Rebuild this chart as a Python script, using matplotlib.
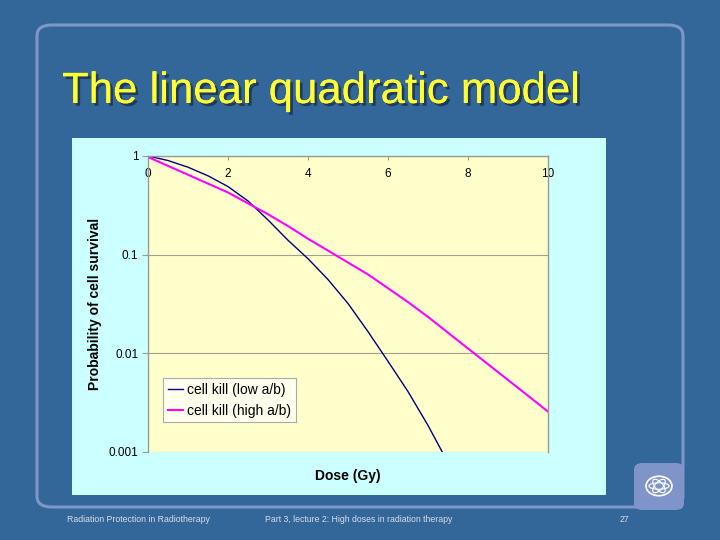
import matplotlib
matplotlib.use("Agg")
import matplotlib.pyplot as plt
import matplotlib.patheffects as pe
from matplotlib.patches import FancyBboxPatch, Rectangle, Ellipse, Circle
import numpy as np

plt.rcParams['font.family'] = ['Liberation Sans', 'DejaVu Sans']

# Data (survival fraction vs dose)
dose = [0, 0.5, 1, 1.5, 2, 2.5, 3, 3.5, 4, 4.5, 5, 5.5, 6, 6.5, 7, 7.5,
        8, 8.5, 9, 9.5, 10]
low_ab = [1.0, 0.90, 0.77, 0.63, 0.49, 0.35, 0.225, 0.14, 0.091, 0.056,
          0.032, 0.0166, 0.0083, 0.0041, 0.00186, 0.00078]
high_ab = [0.977, 0.794, 0.646, 0.525, 0.427, 0.331, 0.257, 0.195, 0.145,
           0.110, 0.0832, 0.0631, 0.0457, 0.0331, 0.0234, 0.0162, 0.0112,
           0.00776, 0.00537, 0.00372, 0.00257]
series_names = ['cell kill (low a/b)', 'cell kill (high a/b)']
x_ticks = [0, 2, 4, 6, 8, 10]
y_ticks = [0.001, 0.01, 0.1, 1]
y_ticklabels = ['0.001', '0.01', '0.1', '1']

W, H = 720, 540
slide_blue = '#336699'

fig = plt.figure(figsize=(7.2, 5.4), dpi=100, facecolor=slide_blue)

def px(x, y):
    # pixel (top-left origin) to figure fraction
    return x / W, 1 - y / H

# slide frame
x0, y0 = px(37, 507)
fig.patches.append(FancyBboxPatch((x0, y0), (683 - 37) / W, (507 - 25) / H,
                                  boxstyle="round,pad=0,rounding_size=0.02",
                                  transform=fig.transFigure, facecolor='none',
                                  edgecolor='#7d97c8', linewidth=2.2))

# title with shadow
fig.text(62 / W, 1 - 103 / H, 'The linear quadratic model', color='#ffff33',
         fontsize=31.5, va='baseline', ha='left',
         path_effects=[pe.withSimplePatchShadow(offset=(2, -2),
                                                shadow_rgbFace='#1c2f4f',
                                                alpha=0.8), pe.Normal()])

# chart area background
cx, cy = px(72, 495)
fig.patches.append(Rectangle((cx, cy), (606 - 72) / W, (495 - 138) / H,
                             transform=fig.transFigure, facecolor='#ccffff',
                             edgecolor='none', zorder=1))

# plot area
l, b = px(148, 452)
ax = fig.add_axes([l, b, (548 - 148) / W, (452 - 156) / H])
ax.set_zorder(3)
ax.set_facecolor('#ffffcc')
ax.set_yscale('log')
ax.set_xlim(0, 10)
ax.set_ylim(0.001, 1)

ax.plot(dose[:len(low_ab)], low_ab, color='#000080', linewidth=1.0,
        label=series_names[0])
ax.plot(dose, high_ab, color='#ff00ff', linewidth=1.5,
        label=series_names[1])

ax.set_yticks(y_ticks)
ax.set_yticklabels(y_ticklabels)
ax.yaxis.set_minor_locator(matplotlib.ticker.NullLocator())
ax.set_xticks(x_ticks)
ax.xaxis.tick_top()
ax.tick_params(axis='x', top=True, labeltop=True, bottom=False,
               labelbottom=False, pad=-17, length=3, direction='in',
               color='#999999', labelsize=8.5)
ax.tick_params(axis='y', length=4, color='#999999', labelsize=8.5, pad=3)
ax.grid(axis='y', which='major', color='#a0a090', linewidth=0.8)

for side in ['left', 'right', 'top']:
    ax.spines[side].set_color('#999999')
    ax.spines[side].set_linewidth(1.0)
ax.spines['bottom'].set_visible(False)

ax.set_xlabel('Dose (Gy)', fontsize=10, fontweight='bold', labelpad=12)
ax.set_ylabel('Probability of cell survival', fontsize=10, fontweight='bold',
              labelpad=5)

leg = ax.legend(loc='lower left', bbox_to_anchor=(0.037, 0.1),
                fontsize=10, handlelength=1.1, handletextpad=0.3,
                borderpad=0.35, labelspacing=0.5, fancybox=False,
                framealpha=1, facecolor='#ffffee', edgecolor='#aaaaaa',
                borderaxespad=0)
leg.get_frame().set_linewidth(0.8)

# logo box
lx, ly = px(634, 510)
fig.patches.append(FancyBboxPatch((lx, ly), 50 / W, 47 / H,
                                  boxstyle="round,pad=0,rounding_size=0.012",
                                  transform=fig.transFigure,
                                  facecolor='#7f95c9', edgecolor='none'))
gx, gy = px(659, 486)
fig.patches.append(Circle((gx, gy), 0.018, transform=fig.transFigure,
                          facecolor='none', edgecolor='white', linewidth=1.2))
for ang in (0, 60, 120):
    fig.patches.append(Ellipse((gx, gy), 0.028, 0.012, angle=ang,
                               transform=fig.transFigure, facecolor='none',
                               edgecolor='white', linewidth=0.8))

# footer
foot_col = '#d8dde8'
fig.text(67 / W, 1 - 519 / H, 'Radiation Protection in Radiotherapy',
         color=foot_col, fontsize=6.3, va='center')
fig.text(265 / W, 1 - 519 / H,
         'Part 3, lecture 2: High doses in radiation therapy',
         color=foot_col, fontsize=6.3, va='center')
fig.text(620 / W, 1 - 519 / H, '27', color=foot_col, fontsize=6.3,
         va='center')

fig.savefig('out.png', dpi=100, facecolor=slide_blue)
